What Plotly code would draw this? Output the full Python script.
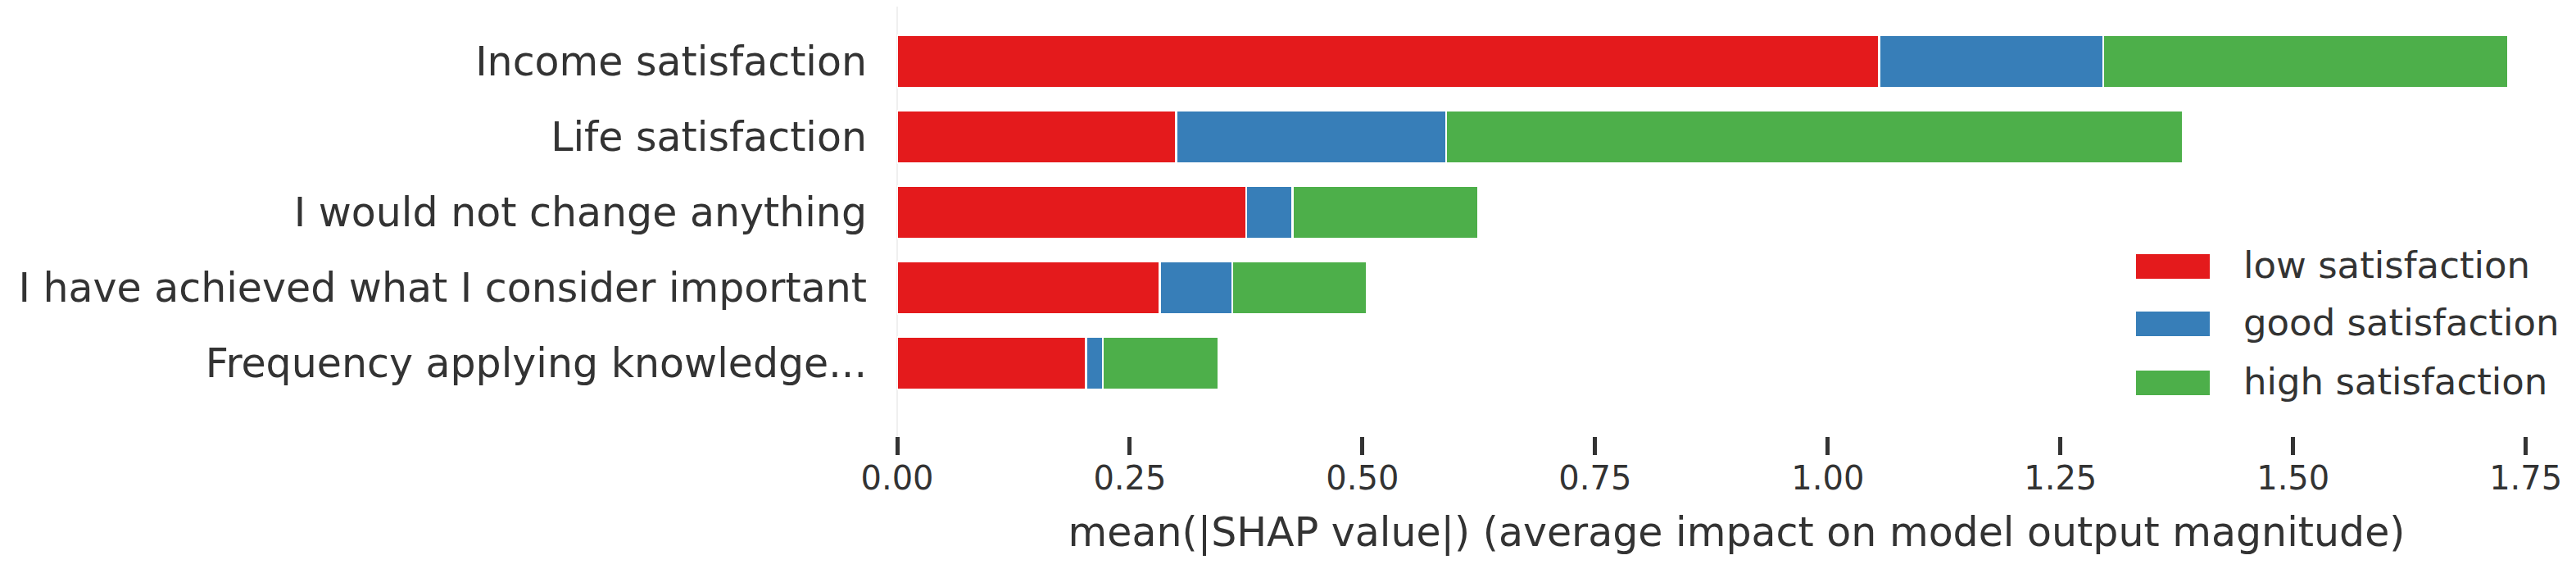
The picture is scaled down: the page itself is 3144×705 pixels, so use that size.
import plotly.graph_objects as go

# Features, listed top to bottom as in the chart
features = [
    "Income satisfaction",
    "Life satisfaction",
    "I would not change anything",
    "I have achieved what I consider important",
    "Frequency applying knowledge...",
]

# mean(|SHAP|) per class
low_satisfaction = [1.055, 0.300, 0.375, 0.282, 0.203]
good_satisfaction = [0.241, 0.290, 0.050, 0.078, 0.018]
high_satisfaction = [0.435, 0.792, 0.199, 0.145, 0.124]

series_names = ["low satisfaction", "good satisfaction", "high satisfaction"]
series_values = [low_satisfaction, good_satisfaction, high_satisfaction]
series_colors = ["#e41a1c", "#377eb8", "#4daf4a"]

x_ticks = [0.0, 0.25, 0.5, 0.75, 1.0, 1.25, 1.5, 1.75]
x_tick_labels = ["0.00", "0.25", "0.50", "0.75", "1.00", "1.25", "1.50", "1.75"]

FONT = "DejaVu Sans"
TXT = "#333333"

# page body has an 8px default margin -> figure is offset by 8px in the window
OFF = 8
W, H = 3144 - OFF, 705 - 2 * OFF
ML, MR, MT = 1095 - OFF, 0, 0
PH = 532 - OFF
MB = H - MT - PH
PW = W - ML - MR

fig = go.Figure()
for name, vals, col in zip(series_names, series_values, series_colors):
    fig.add_trace(go.Bar(
        y=features, x=vals, name=name, orientation="h",
        width=0.7, marker=dict(color=col, line=dict(color="white", width=2.5)),
        showlegend=False,
    ))

# matplotlib-like legend: wide colour patches + labels (window pixel positions)
leg_left, leg_right, text_left = 2607, 2697, 2736
leg_centers = [325, 395, 467]
patch_half = 15


def px_x(x):
    return (x - OFF - ML) / PW


def px_y(y):
    return 1 - (y - OFF - MT) / PH


shapes, annotations = [], []
for name, col, cy in zip(series_names, series_colors, leg_centers):
    shapes.append(dict(
        type="rect", xref="paper", yref="paper",
        x0=px_x(leg_left), x1=px_x(leg_right),
        y0=px_y(cy + patch_half), y1=px_y(cy - patch_half),
        fillcolor=col, line=dict(width=0),
    ))
    annotations.append(dict(
        text=name, xref="paper", yref="paper",
        x=px_x(text_left), y=px_y(cy - 2),
        xanchor="left", yanchor="middle", showarrow=False,
        font=dict(size=45, color=TXT, family=FONT),
    ))

# y range: top bar centre at window y=75, spacing 92 px
top_val = -(75 - OFF) / 92.0
bot_val = top_val + PH / 92.0

fig.update_layout(
    barmode="stack",
    width=W, height=H,
    margin=dict(l=ML, r=MR, t=MT, b=MB),
    paper_bgcolor="white", plot_bgcolor="white",
    font=dict(family=FONT, color=TXT),
    showlegend=False,
    shapes=shapes, annotations=annotations,
    xaxis=dict(
        range=[0, 1.804], tickvals=x_ticks, ticktext=x_tick_labels,
        ticks="outside", ticklen=22, tickwidth=5, tickcolor=TXT,
        tickfont=dict(size=40, color=TXT, family=FONT),
        ticklabelstandoff=-6,
        showgrid=False, showline=False, automargin=False,
        zeroline=True, zerolinecolor="#f0f0f0", zerolinewidth=2,
        title=dict(text="mean(|SHAP value|) (average impact on model output magnitude)",
                   font=dict(size=49, color=TXT, family=FONT), standoff=26),
    ),
    yaxis=dict(
        type="category", categoryorder="array", categoryarray=features,
        range=[bot_val, top_val], automargin=False,
        showgrid=False, showline=False, zeroline=False, ticks="",
        tickfont=dict(size=49, color=TXT, family=FONT),
        ticklabelstandoff=36,
    ),
)

fig.write_html("out.html")
